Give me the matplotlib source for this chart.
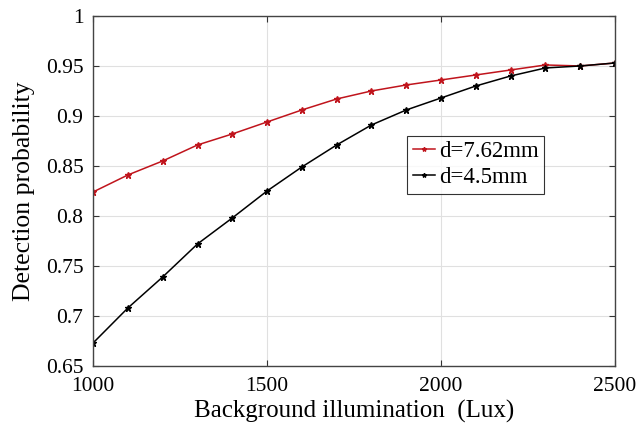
import numpy as np
import matplotlib.pyplot as plt

plt.rcParams['font.family'] = ['Liberation Serif', 'DejaVu Serif']

illum = [1000, 1100, 1200, 1300, 1400, 1500, 1600, 1700,
         1800, 1900, 2000, 2100, 2200, 2300, 2400, 2500]
p_762 = [0.824, 0.841, 0.855, 0.871, 0.882, 0.894, 0.906, 0.917,
         0.925, 0.931, 0.936, 0.941, 0.946, 0.951, 0.950, 0.953]
p_45 = [0.673, 0.708, 0.739, 0.772, 0.798, 0.825, 0.849, 0.871,
        0.891, 0.906, 0.918, 0.930, 0.940, 0.948, 0.950, 0.953]

fig = plt.figure(figsize=(6.38, 4.32), dpi=100)
ax = fig.add_axes([0.146, 0.153, 0.818, 0.81])

ax.plot(illum, p_762, color='#c0141c', lw=1.1, marker='*', ms=4.5,
        label='d=7.62mm')
ax.plot(illum, p_45, color='black', lw=1.1, marker='*', ms=4.5,
        label='d=4.5mm')

ax.set_xlim(1000, 2500)
ax.set_ylim(0.65, 1.0)
ax.set_xticks([1000, 1500, 2000, 2500])
ax.set_yticks(np.arange(0.65, 1.001, 0.05))
ax.set_yticklabels(['0.65', '0.7', '0.75', '0.8', '0.85', '0.9', '0.95', '1'])
ax.grid(True, color='#e0e0e0', lw=0.8)
ax.tick_params(direction='in', top=True, right=True, labelsize=15.5,
               length=4, color='#333333')
ax.tick_params(axis='x', pad=8)
ax.tick_params(axis='y', pad=7)
for s in ax.spines.values():
    s.set_color('#444444')
    s.set_linewidth(1.0)

ax.set_xlabel('Background illumination  (Lux)', fontsize=18, labelpad=3)
ax.set_ylabel('Detection probability', fontsize=18.5, labelpad=8)

leg = ax.legend(loc='upper left', bbox_to_anchor=(0.601, 0.658), fontsize=16.5,
                frameon=True, fancybox=False, handlelength=1.0,
                handletextpad=0.15, borderpad=0.25, labelspacing=0.2,
                borderaxespad=0, markerscale=0.7)
leg.get_frame().set_edgecolor('black')
leg.get_frame().set_linewidth(0.8)

fig.savefig('out.png', dpi=100)
